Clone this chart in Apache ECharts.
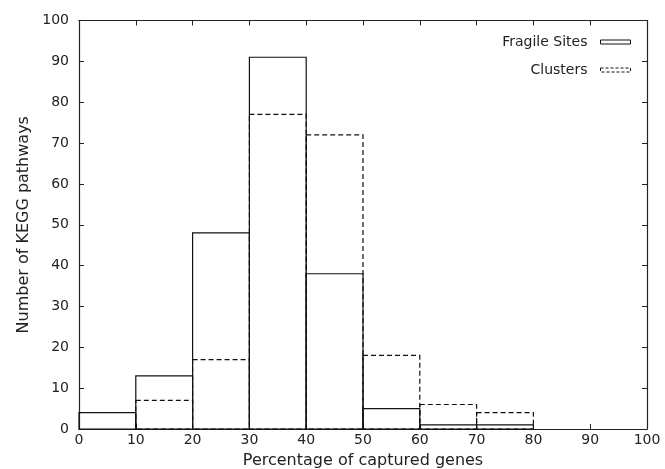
<!DOCTYPE html>
<html>
<head>
    <meta charset="utf-8">
    <title>KEGG pathways histogram</title>
    <script src="https://cdn.jsdelivr.net/npm/echarts@6/dist/echarts.min.js"></script>
    <style>
        html, body { margin: 0; padding: 0; background: #fff; }
    </style>
</head>
<body>
    <div id="chart" style="width: 665px;height:469px;"></div>
    <script type="text/javascript">
        // bins of 10%, left edge of each bar
        var binStarts = [0, 10, 20, 30, 40, 50, 60, 70, 80, 90];
        var binWidth = 10;
        var fragileSites = [4, 13, 48, 91, 38, 5, 1, 1, 0, 0];
        var clusters = [0, 7, 17, 77, 72, 18, 6, 4, 0, 0];
        var xTicks = [0, 10, 20, 30, 40, 50, 60, 70, 80, 90, 100];
        var yTicks = [0, 10, 20, 30, 40, 50, 60, 70, 80, 90, 100];

        function toBars(values) {
            var out = [];
            for (var i = 0; i < values.length; i++) {
                if (values[i] > 0) out.push([binStarts[i], binStarts[i] + binWidth, values[i]]);
            }
            return out;
        }

        function barRenderer(dash) {
            return function (params, api) {
                var p0 = api.coord([api.value(0), api.value(2)]);
                var p1 = api.coord([api.value(1), 0]);
                return {
                    type: 'rect',
                    shape: { x: p0[0], y: p0[1], width: p1[0] - p0[0], height: p1[1] - p0[1] },
                    style: { fill: 'none', stroke: '#111', lineWidth: 1.2, lineDash: dash }
                };
            };
        }

        var font = 'DejaVu Sans, sans-serif';
        var chart = echarts.init(document.getElementById('chart'));
        var tickStyle = { show: true, inside: true, length: 5, lineStyle: { color: '#222', width: 1 } };
        var lineStyle = { show: true, onZero: false, lineStyle: { color: '#222', width: 1.2 } };

        var option = {
            animation: false,
            textStyle: { fontFamily: font },
            grid: { left: 79, right: 18, top: 20.5, bottom: 40, outerBoundsMode: 'none', containLabel: false },
            legend: {
                orient: 'vertical',
                right: 29,
                top: 30,
                align: 'right',
                itemWidth: 30,
                itemHeight: 4,
                itemGap: 14,
                textStyle: { fontFamily: font, fontSize: 14, color: '#222', padding: [0, 8, 0, 0] },
                data: [
                    { name: 'Fragile Sites', icon: 'rect', itemStyle: { color: 'transparent', borderColor: '#111', borderWidth: 1 } },
                    { name: 'Clusters', icon: 'rect', itemStyle: { color: 'transparent', borderColor: '#111', borderWidth: 1, borderType: [3, 2] } }
                ]
            },
            xAxis: [{
                type: 'value', min: 0, max: 100, interval: 10,
                name: 'Percentage of captured genes', nameLocation: 'middle', nameGap: 24,
                nameTextStyle: { fontFamily: font, fontSize: 16, color: '#222' },
                axisLine: lineStyle, axisTick: tickStyle, splitLine: { show: false },
                axisLabel: { fontFamily: font, fontSize: 14, color: '#222', margin: 4,
                    customValues: xTicks },
            }, {
                type: 'value', min: 0, max: 100, interval: 10, position: 'top',
                axisLine: lineStyle, axisTick: tickStyle, splitLine: { show: false },
                axisLabel: { show: false }
            }],
            yAxis: [{
                type: 'value', min: 0, max: 100, interval: 10,
                name: 'Number of KEGG pathways', nameLocation: 'middle', nameGap: 46,
                nameTextStyle: { fontFamily: font, fontSize: 16, color: '#222' },
                axisLine: lineStyle, axisTick: tickStyle, splitLine: { show: false },
                axisLabel: { fontFamily: font, fontSize: 14, color: '#222', margin: 10,
                    customValues: yTicks }
            }, {
                type: 'value', min: 0, max: 100, interval: 10, position: 'right',
                axisLine: lineStyle, axisTick: tickStyle, splitLine: { show: false },
                axisLabel: { show: false }
            }],
            series: [{
                name: 'Fragile Sites',
                type: 'custom',
                renderItem: barRenderer(null),
                itemStyle: { color: '#111' },
                encode: { x: [0, 1], y: 2 },
                data: toBars(fragileSites),
                z: 3
            }, {
                name: 'Clusters',
                type: 'custom',
                renderItem: barRenderer([5, 3]),
                itemStyle: { color: '#111' },
                encode: { x: [0, 1], y: 2 },
                data: toBars(clusters),
                z: 2
            }]
        };
        chart.setOption(option);
    </script>
</body>
</html>
